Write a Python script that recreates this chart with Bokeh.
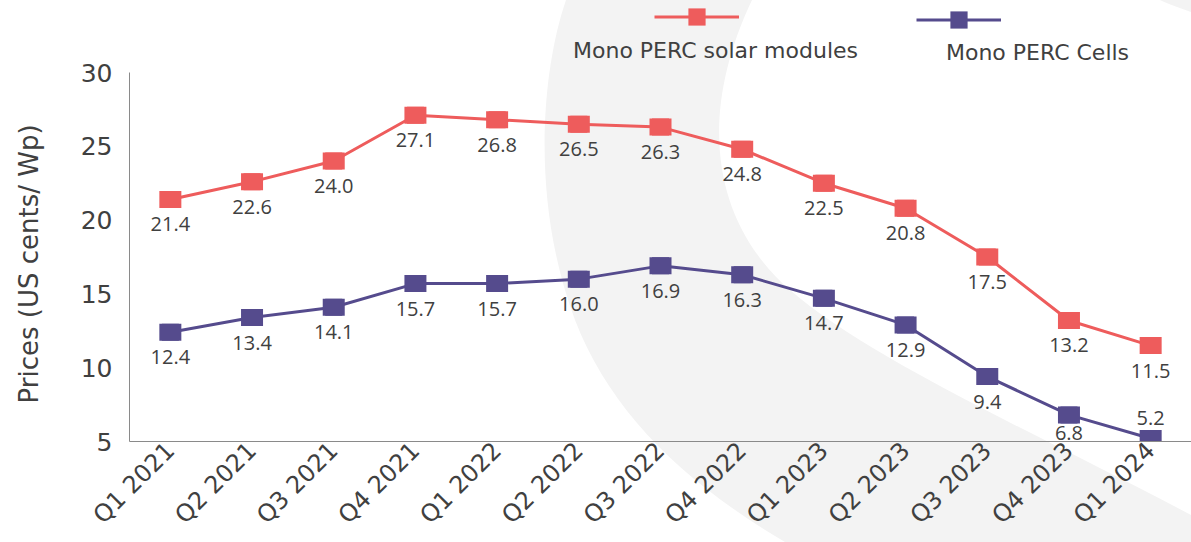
import math
from urllib.parse import quote

from bokeh.plotting import figure
from bokeh.models import (FactorRange, Range1d, ColumnDataSource, FixedTicker,
                          Legend, LegendItem, Label, Title)
from bokeh.core.properties import value
from bokeh.embed import file_html
from bokeh.resources import INLINE

# ---------------- data ----------------
quarters = ["Q1 2021", "Q2 2021", "Q3 2021", "Q4 2021",
            "Q1 2022", "Q2 2022", "Q3 2022", "Q4 2022",
            "Q1 2023", "Q2 2023", "Q3 2023", "Q4 2023", "Q1 2024"]
modules = [21.4, 22.6, 24.0, 27.1, 26.8, 26.5, 26.3, 24.8, 22.5, 20.8, 17.5, 13.2, 11.5]
cells = [12.4, 13.4, 14.1, 15.7, 15.7, 16.0, 16.9, 16.3, 14.7, 12.9, 9.4, 6.8, 5.2]
y_ticks = [5, 10, 15, 20, 25, 30]
series_names = ["Mono PERC solar modules", "Mono PERC Cells"]
y_title = "Prices (US cents/ Wp)"

# ---------------- styles ----------------
RED = "#EE5C5C"
PURPLE = "#554B8D"
TEXT = "#404040"
AXIS = "#8a8a8a"
BAND = "#f3f3f3"
FONT = "DejaVu Sans"
LABEL_FONT = "Open Sans"

# vertical shift (px, down positive) of each value label
mod_label_shift = [25] * 13
cell_label_shift = [25] * 11 + [18, -21]

W, H = 1191, 542
FRAME_LEFT, FRAME_BOTTOM, AXIS_TOP = 129, 441, 72
Y_MIN, Y_MAX = y_ticks[0], y_ticks[-1]
# extend the value range upward so the frame reaches the top of the canvas
px_per_unit = (FRAME_BOTTOM - AXIS_TOP) / (Y_MAX - Y_MIN)
y_end = Y_MIN + FRAME_BOTTOM / px_per_unit

# decorative background swoosh (page pixels)
swoosh = (
    '<svg xmlns="http://www.w3.org/2000/svg" width="1191" height="542">'
    '<g fill="' + BAND + '">'
    '<path d="M 566 0 C 542 70, 530 200, 575 320 C 610 410, 680 480, 785 542 '
    'L 1191 542 L 1191 515 C 1050 440, 870 360, 790 290 C 715 225, 695 120, 752 0 Z"/>'
    '<path d="M 1160 0 L 1191 0 L 1191 12 C 1180 8, 1168 4, 1160 0 Z"/>'
    '</g></svg>'
)

p = figure(width=W, height=H,
           x_range=FactorRange(*quarters), y_range=Range1d(Y_MIN, y_end),
           output_backend="svg", toolbar_location=None,
           min_border_left=FRAME_LEFT, min_border_right=0,
           min_border_top=0, min_border_bottom=H - FRAME_BOTTOM,
           background_fill_color=None, border_fill_color=None,
           outline_line_color=None,
           styles={"background-image": 'url("data:image/svg+xml,' + quote(swoosh) + '")',
                   "background-repeat": "no-repeat"})

p.xgrid.grid_line_color = None
p.ygrid.grid_line_color = None

# y axis
yax = p.yaxis[0]
yax.ticker = FixedTicker(ticks=y_ticks)
yax.bounds = (Y_MIN, Y_MAX)
yax.major_tick_line_color = None
yax.minor_tick_line_color = None
yax.major_tick_out = 0
yax.minor_tick_out = 0
yax.major_tick_in = 0
yax.axis_line_color = AXIS
yax.major_label_standoff = 17
yax.major_label_text_font = FONT
yax.major_label_text_font_size = "25px"
yax.major_label_text_color = TEXT

# blank spacer between the tick labels and the y title
p.add_layout(Title(text=" ", standoff=31, text_font_size="1px",
                   text_color="#ffffff"), "left")
# y title, starting just above the 5 tick and running upward
p.add_layout(Title(text=y_title, align="left", offset=38, standoff=0,
                   text_font=FONT, text_font_size="26px",
                   text_font_style="normal", text_color=TEXT), "left")

# x axis
xax = p.xaxis[0]
xax.major_tick_line_color = None
xax.minor_tick_line_color = None
xax.major_tick_out = 0
xax.major_tick_in = 0
xax.axis_line_color = AXIS
xax.major_label_orientation = math.pi / 4
xax.major_label_standoff = 5
xax.major_label_text_font = FONT
xax.major_label_text_font_size = "24px"
xax.major_label_text_color = TEXT

# series
legend_renderers = []
for vals, col, shift in ((modules, RED, mod_label_shift), (cells, PURPLE, cell_label_shift)):
    src = ColumnDataSource(dict(x=quarters, y=vals,
                                t=[f"{v:.1f}" for v in vals], dy=shift))
    lr = p.line("x", "y", source=src, line_color=col, line_width=3)
    sr = p.scatter("x", "y", source=src, marker="square", size=17,
                   fill_color=col, line_color=None)
    p.rect("x", "y", source=src, width=22, height=17,
           width_units="screen", height_units="screen",
           fill_color=col, line_color=None)
    p.text("x", "y", text="t", source=src, y_offset="dy",
           text_align="center", text_baseline="middle",
           text_font=value(LABEL_FONT), text_font_size="20px", text_color=TEXT)
    legend_renderers.append([lr, sr])

# legend (glyph on top, label underneath)
legend_pos = [(525, 403.5), (787, 400.5)]
label_pos = [(586, 391), (908, 389)]
for name, rends, lp, tp in zip(series_names, legend_renderers, legend_pos, label_pos):
    leg = Legend(items=[LegendItem(label=" ", renderers=rends)],
                 location=lp, glyph_width=85, glyph_height=43,
                 padding=0, margin=0, spacing=0, label_standoff=0,
                 label_width=0, label_height=0, label_text_font_size="1px",
                 border_line_color=None, background_fill_alpha=0)
    p.add_layout(leg)
    p.add_layout(Label(x=tp[0], y=tp[1], x_units="screen", y_units="screen",
                       text=name, text_align="center", text_baseline="middle",
                       text_font=FONT, text_font_size="22px", text_color=TEXT))

open("out.html", "w").write(file_html(p, INLINE))
